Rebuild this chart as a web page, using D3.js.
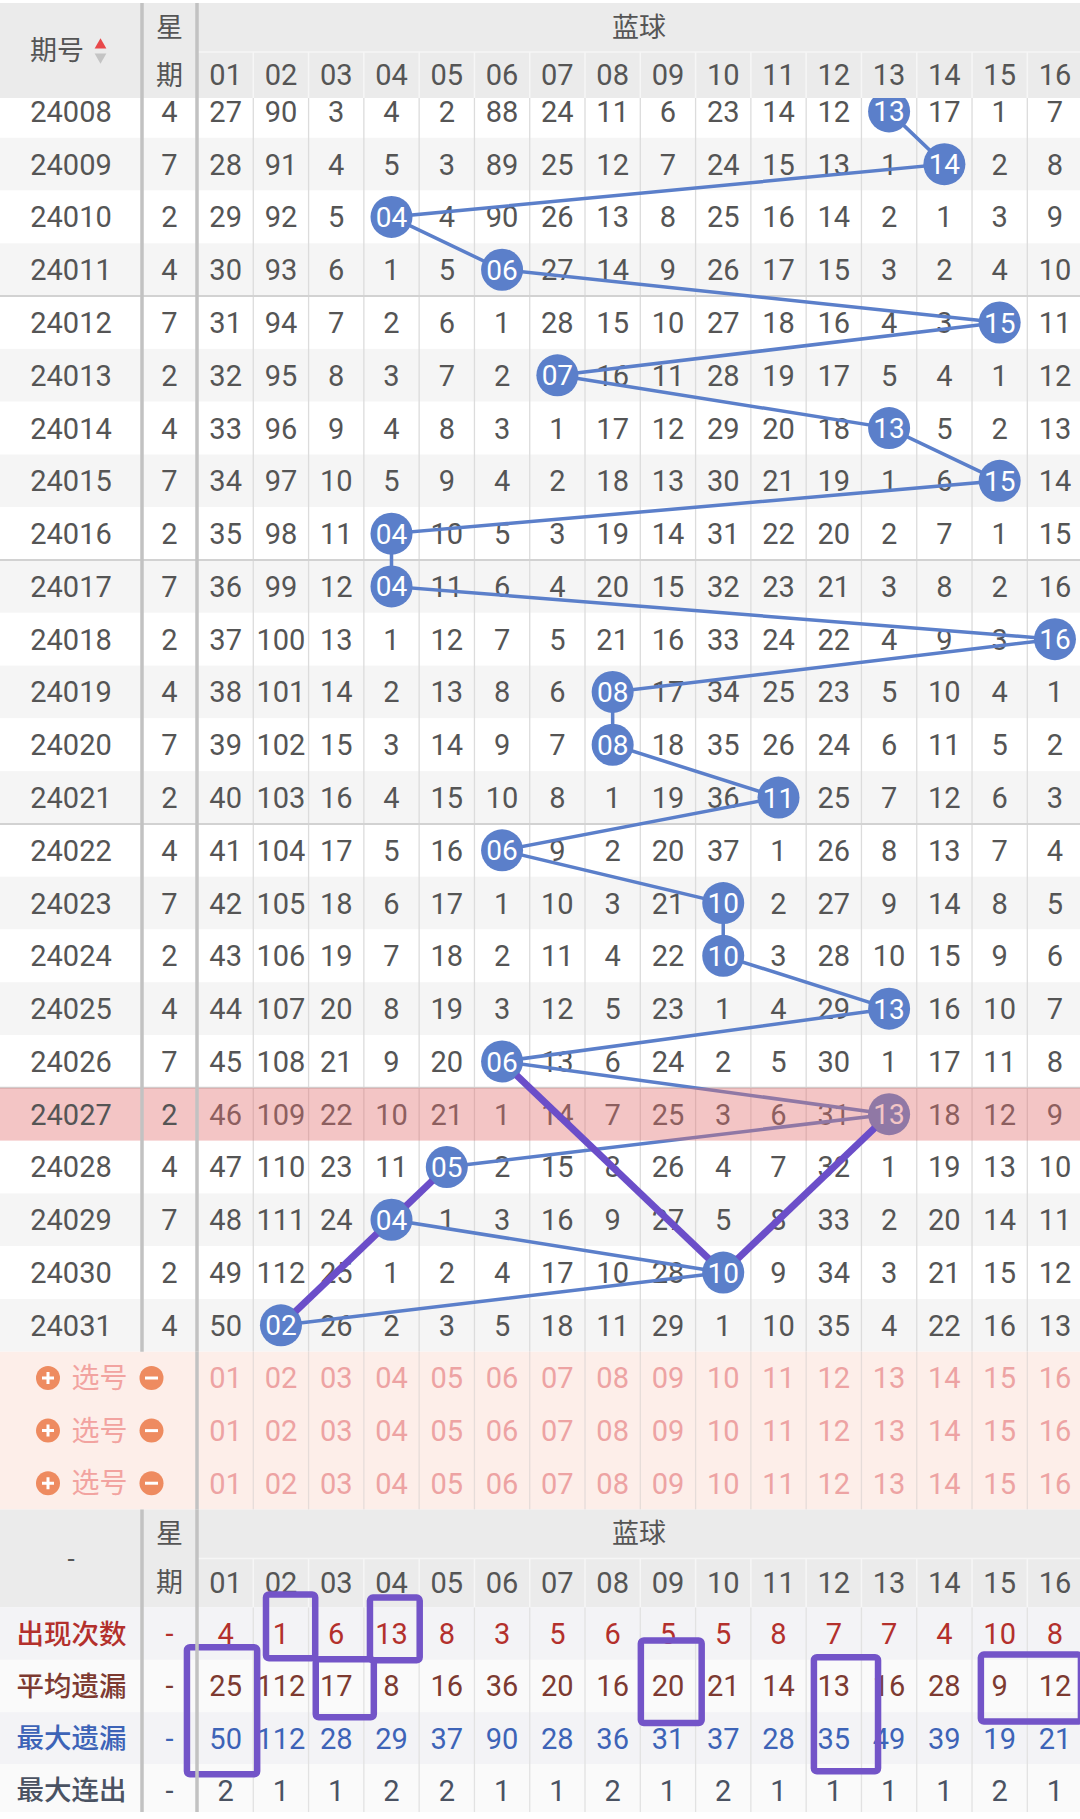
<!DOCTYPE html>
<html><head><meta charset="utf-8">
<script src="https://cdn.jsdelivr.net/npm/d3@7"></script>
<style>html,body{margin:0;padding:0;background:#fff;}svg{display:block;}</style>
</head><body><div id="chart"></div>
<script>
// ---------------- DATA ----------------
const columns = ["01","02","03","04","05","06","07","08","09","10","11","12","13","14","15","16"];
const periods = ["24008","24009","24010","24011","24012","24013","24014","24015","24016","24017","24018","24019",
                 "24020","24021","24022","24023","24024","24025","24026","24027","24028","24029","24030","24031"];
const weekdays = [4,7,2,4,7,2,4,7,2,7,2,4,7,2,4,7,2,4,7,2,4,7,2,4];
const blueBalls = [13,14,4,6,15,7,13,15,4,4,16,8,8,11,6,10,10,13,6,13,5,4,10,2];
// omission counts per period (ball cell shown as a ball instead)
const omissions = [
  [27,90,3,4,2,88,24,11,6,23,14,12,0,17,1,7],
  [28,91,4,5,3,89,25,12,7,24,15,13,1,0,2,8],
  [29,92,5,0,4,90,26,13,8,25,16,14,2,1,3,9],
  [30,93,6,1,5,0,27,14,9,26,17,15,3,2,4,10],
  [31,94,7,2,6,1,28,15,10,27,18,16,4,3,0,11],
  [32,95,8,3,7,2,0,16,11,28,19,17,5,4,1,12],
  [33,96,9,4,8,3,1,17,12,29,20,18,0,5,2,13],
  [34,97,10,5,9,4,2,18,13,30,21,19,1,6,0,14],
  [35,98,11,0,10,5,3,19,14,31,22,20,2,7,1,15],
  [36,99,12,0,11,6,4,20,15,32,23,21,3,8,2,16],
  [37,100,13,1,12,7,5,21,16,33,24,22,4,9,3,0],
  [38,101,14,2,13,8,6,0,17,34,25,23,5,10,4,1],
  [39,102,15,3,14,9,7,0,18,35,26,24,6,11,5,2],
  [40,103,16,4,15,10,8,1,19,36,0,25,7,12,6,3],
  [41,104,17,5,16,0,9,2,20,37,1,26,8,13,7,4],
  [42,105,18,6,17,1,10,3,21,0,2,27,9,14,8,5],
  [43,106,19,7,18,2,11,4,22,0,3,28,10,15,9,6],
  [44,107,20,8,19,3,12,5,23,1,4,29,0,16,10,7],
  [45,108,21,9,20,0,13,6,24,2,5,30,1,17,11,8],
  [46,109,22,10,21,1,14,7,25,3,6,31,0,18,12,9],
  [47,110,23,11,0,2,15,8,26,4,7,32,1,19,13,10],
  [48,111,24,0,1,3,16,9,27,5,8,33,2,20,14,11],
  [49,112,25,1,2,4,17,10,28,0,9,34,3,21,15,12],
  [50,0,26,2,3,5,18,11,29,1,10,35,4,22,16,13]
];
const pickRows = ["选号","选号","选号"];
const statLabels = ["出现次数","平均遗漏","最大遗漏","最大连出"];
const statCount  = [4,1,6,13,8,3,5,6,5,5,8,7,7,4,10,8];
const statAvg    = [25,112,17,8,16,36,20,16,20,21,14,13,16,28,9,12];
const statMax    = [50,112,28,29,37,90,28,36,31,37,28,35,49,39,19,21];
const statStreak = [2,1,1,2,2,1,1,2,1,2,1,1,1,1,2,1];
const highlightPeriod = "24027";
const groupBreaks = ["24011","24016","24021","24026"];
// hand-drawn marks: paths through [period, ball] cells
const markedPaths = [
  [["24026",6],["24030",10]],
  [["24030",10],["24027",13]],
  [["24031",2],["24029",4],["24028",5]]
];
// hand-drawn boxes in the stats table, in cell units (column index, stat row index)
const markedBoxes = [
  {c0:1.23,c1:2.12,r0:-0.25,r1:0.97},
  {c0:3.11,c1:4.01,r0:-0.19,r1:1.01},
  {c0:-0.2,c1:1.07,r0:0.76,r1:3.19},
  {c0:2.13,c1:3.18,r0:0.99,r1:2.1},
  {c0:8.01,c1:9.11,r0:0.63,r1:2.21},
  {c0:11.14,c1:12.3,r0:0.95,r1:3.13},
  {c0:14.16,c1:15.97,r0:0.9,r1:2.18}
];

// ---------------- LAYOUT ----------------
const W = 1080, H = 1819;
const FONT = "Roboto, 'Noto Sans CJK SC', sans-serif";
const CJK = "'Noto Sans CJK SC', Roboto, sans-serif";
const NUM = 29;
const sepA = 142, sepB = 197;
const headTop = 3, headMid = 52, headBot = 98;
const rowH = 52.78, dataTop = 85;
const pickH = 52.6;
const statH = 52.3;

const x = d3.scaleBand().domain(columns).range([198, 1082.6]);
const bw = x.bandwidth();
const y = d3.scaleBand().domain(periods).range([dataTop, dataTop + periods.length * rowH]);
const dataBot = dataTop + periods.length * rowH;
const yPick = d3.scaleBand().domain(d3.range(pickRows.length)).range([dataBot, dataBot + pickRows.length * pickH]);
const pickBot = dataBot + pickRows.length * pickH;
const bTop = pickBot, bMid = bTop + 49, bBot = bTop + 98;
const yStat = d3.scaleBand().domain(statLabels).range([bBot, bBot + statLabels.length * statH]);
const cx = c => x(columns[c - 1]) + bw / 2;
const cy = p => y(p) + rowH / 2;
const xEdge = d3.scaleLinear().domain([0, 16]).range(x.range());
const yEdge = d3.scaleLinear().domain([0, 4]).range(yStat.range());

const svg = d3.select("#chart").append("svg").attr("width", W).attr("height", H)
  .style("font-family", FONT);

const TXT = "#555";
function txt(g, tx, ty, s, opt = {}) {
  return g.append("text").attr("x", tx).attr("y", ty).attr("dy", opt.dy || "0.36em")
    .attr("text-anchor", "middle").attr("font-size", opt.size || NUM)
    .attr("font-family", opt.family || FONT).attr("font-weight", opt.weight || 400)
    .attr("fill", opt.fill || TXT).text(s);
}

// ---------------- DATA ROWS ----------------
const gRows = svg.append("g");
gRows.selectAll("rect").data(periods).join("rect")
  .attr("x", 0).attr("width", W).attr("y", d => y(d)).attr("height", rowH)
  .attr("fill", (d, i) => d === highlightPeriod ? "#fff" : (i % 2 ? "#f5f5f5" : "#fff"));

const gLines = svg.append("g");
gLines.selectAll("line").data(columns.slice(1)).join("line")
  .attr("x1", d => x(d)).attr("x2", d => x(d))
  .attr("y1", dataTop).attr("y2", dataBot)
  .attr("stroke", "#dcdcdc").attr("stroke-width", 1.3);
gLines.selectAll("line.g").data(groupBreaks).join("line").attr("class", "g")
  .attr("x1", 0).attr("x2", W)
  .attr("y1", d => y(d) + rowH).attr("y2", d => y(d) + rowH)
  .attr("stroke", "#d2d2d2").attr("stroke-width", 2);

// omission numbers
const gNums = svg.append("g");
periods.forEach((p, i) => {
  omissions[i].forEach((v, j) => {
    if (j + 1 === blueBalls[i]) return;
    txt(gNums, cx(j + 1), cy(p), v);
  });
});

// trend line
const pts = periods.map((p, i) => [cx(blueBalls[i]), cy(p)]);
svg.append("path").attr("d", d3.line()(pts)).attr("fill", "none")
  .attr("stroke", "#5b7fca").attr("stroke-width", 3.5);

// balls
const gBall = svg.append("g");
periods.forEach((p, i) => {
  gBall.append("circle").attr("cx", cx(blueBalls[i])).attr("cy", cy(p)).attr("r", 21).attr("fill", "#5b7fca");
  txt(gBall, cx(blueBalls[i]), cy(p), columns[blueBalls[i] - 1], {fill: "#fff", size: 28});
});

// highlight overlay
svg.append("rect").attr("x", 0).attr("width", W).attr("y", y(highlightPeriod)).attr("height", rowH)
  .attr("fill", "rgba(225,110,110,0.4)");

// left columns text
const gLeft = svg.append("g");
periods.forEach((p, i) => {
  txt(gLeft, 71, cy(p), p);
  txt(gLeft, (sepA + sepB) / 2, cy(p), weekdays[i]);
});

// hand-drawn purple paths (trimmed at ball edges)
const gMark = svg.append("g");
markedPaths.forEach(path => {
  for (let k = 0; k < path.length - 1; k++) {
    const a = [cx(path[k][1]), cy(path[k][0])], b = [cx(path[k + 1][1]), cy(path[k + 1][0])];
    const dx = b[0] - a[0], dy = b[1] - a[1], L = Math.hypot(dx, dy), t = 20 / L;
    gMark.append("line")
      .attr("x1", a[0] + dx * t).attr("y1", a[1] + dy * t)
      .attr("x2", b[0] - dx * t).attr("y2", b[1] - dy * t)
      .attr("stroke", "#6b4ec9").attr("stroke-width", 7);
  }
});

// ---------------- TOP HEADER ----------------
const gHead = svg.append("g");
gHead.append("rect").attr("x", 0).attr("y", 0).attr("width", W).attr("height", headTop).attr("fill", "#fff");
gHead.append("rect").attr("x", 0).attr("y", headTop).attr("width", W).attr("height", headBot - headTop).attr("fill", "#ebebeb");
gHead.append("line").attr("x1", sepB).attr("x2", W).attr("y1", headMid).attr("y2", headMid)
  .attr("stroke", "#f6f6f6").attr("stroke-width", 1.5);
gHead.selectAll("line.v").data(columns.slice(1)).join("line").attr("class", "v")
  .attr("x1", d => x(d)).attr("x2", d => x(d)).attr("y1", headMid).attr("y2", headBot)
  .attr("stroke", "#f6f6f6").attr("stroke-width", 1.5);
txt(gHead, 57, 50, "期号", {family: CJK, size: 27});
gHead.append("path").attr("d", d3.symbol(d3.symbolTriangle, 60)())
  .attr("transform", "translate(100.5,45)").attr("fill", "#e8484a");
gHead.append("path").attr("d", d3.symbol(d3.symbolTriangle, 60)())
  .attr("transform", "translate(100.5,57) rotate(180)").attr("fill", "#c4c4c4");
txt(gHead, (sepA + sepB) / 2, 27, "星", {family: CJK, size: 27});
txt(gHead, (sepA + sepB) / 2, 75, "期", {family: CJK, size: 27});
txt(gHead, (xEdge(0) + W) / 2, 27, "蓝球", {family: CJK, size: 27});
columns.forEach(c => txt(gHead, x(c) + bw / 2, 75, c));

// ---------------- PICK ROWS ----------------
const gPick = svg.append("g");
gPick.append("rect").attr("x", 0).attr("y", dataBot).attr("width", W).attr("height", pickBot - dataBot).attr("fill", "#fdeee9");
gPick.selectAll("line").data(columns.slice(1)).join("line")
  .attr("x1", d => x(d)).attr("x2", d => x(d)).attr("y1", dataBot).attr("y2", pickBot)
  .attr("stroke", "#e6dcd9").attr("stroke-width", 1.3);
pickRows.forEach((lab, i) => {
  const yc = yPick(i) + pickH / 2;
  gPick.append("circle").attr("cx", 48).attr("cy", yc).attr("r", 12).attr("fill", "#ee8b60");
  gPick.append("path").attr("d", `M${42},${yc}H${54}M48,${yc - 6}V${yc + 6}`).attr("stroke", "#fff").attr("stroke-width", 3);
  txt(gPick, 99.5, yc, lab, {family: CJK, size: 28, fill: "#f2a3a0"});
  gPick.append("circle").attr("cx", 151.5).attr("cy", yc).attr("r", 12).attr("fill", "#ee8b60");
  gPick.append("path").attr("d", `M${145},${yc}H${158}`).attr("stroke", "#fff").attr("stroke-width", 3);
  columns.forEach(c => txt(gPick, x(c) + bw / 2, yc, c, {fill: "#eda3a3"}));
});

// ---------------- BOTTOM HEADER ----------------
const gBH = svg.append("g");
gBH.append("rect").attr("x", 0).attr("y", bTop).attr("width", W).attr("height", bBot - bTop).attr("fill", "#ebebeb");
gBH.append("line").attr("x1", sepB).attr("x2", W).attr("y1", bMid).attr("y2", bMid)
  .attr("stroke", "#f6f6f6").attr("stroke-width", 1.5);
gBH.selectAll("line.v").data(columns.slice(1)).join("line").attr("class", "v")
  .attr("x1", d => x(d)).attr("x2", d => x(d)).attr("y1", bMid).attr("y2", bBot)
  .attr("stroke", "#f6f6f6").attr("stroke-width", 1.5);
txt(gBH, 71, bMid, "-", {size: 26});
txt(gBH, (sepA + sepB) / 2, bTop + 24, "星", {family: CJK, size: 27});
txt(gBH, (sepA + sepB) / 2, bMid + 24, "期", {family: CJK, size: 27});
txt(gBH, (xEdge(0) + W) / 2, bTop + 24, "蓝球", {family: CJK, size: 27});
columns.forEach(c => txt(gBH, x(c) + bw / 2, bMid + 24, c));

// ---------------- STATS ----------------
const statValues = [statCount, statAvg, statMax, statStreak];
const statColors = ["#b3302c", "#7d3a31", "#3d63b7", "#4a5262"];
const gStat = svg.append("g");
gStat.selectAll("rect").data(statLabels).join("rect")
  .attr("x", 0).attr("width", W).attr("y", d => yStat(d)).attr("height", statH)
  .attr("fill", (d, i) => i % 2 ? "#fafafa" : "#f3f3f6");
gStat.selectAll("line").data(columns.slice(1)).join("line")
  .attr("x1", d => x(d)).attr("x2", d => x(d)).attr("y1", bBot).attr("y2", yStat.range()[1])
  .attr("stroke", "#e2e2e2").attr("stroke-width", 1.3);
statLabels.forEach((lab, i) => {
  const yc = yStat(lab) + statH / 2;
  txt(gStat, 71.5, yc, lab, {family: CJK, size: 27.5, weight: 500, fill: statColors[i]});
  txt(gStat, (sepA + sepB) / 2, yc, "-", {fill: statColors[i]});
  statValues[i].forEach((v, j) => txt(gStat, x(columns[j]) + bw / 2, yc, v, {fill: statColors[i]}));
});
svg.append("rect").attr("x", 0).attr("y", 1812).attr("width", W).attr("height", H - 1812).attr("fill", "#fff");

// hand-drawn boxes
svg.append("g").selectAll("rect").data(markedBoxes).join("rect")
  .attr("x", d => xEdge(d.c0)).attr("width", d => xEdge(d.c1) - xEdge(d.c0))
  .attr("y", d => yEdge(d.r0)).attr("height", d => yEdge(d.r1) - yEdge(d.r0))
  .attr("rx", 3).attr("fill", "none").attr("stroke", "#7354c8").attr("stroke-width", 6.5);

// ---------------- SEPARATORS ----------------
const gSep = svg.append("g");
[sepA, sepB].forEach(sx => {
  gSep.append("line").attr("x1", sx).attr("x2", sx).attr("y1", headTop).attr("y2", dataBot)
    .attr("stroke", "#c2c2c2").attr("stroke-width", 3.5);
  gSep.append("line").attr("x1", sx).attr("x2", sx).attr("y1", bTop).attr("y2", 1812)
    .attr("stroke", "#c2c2c2").attr("stroke-width", 3.5);
});
gSep.append("line").attr("x1", sepB).attr("x2", sepB).attr("y1", dataBot).attr("y2", pickBot)
  .attr("stroke", "#c2c2c2").attr("stroke-width", 3.5);
</script></body></html>
